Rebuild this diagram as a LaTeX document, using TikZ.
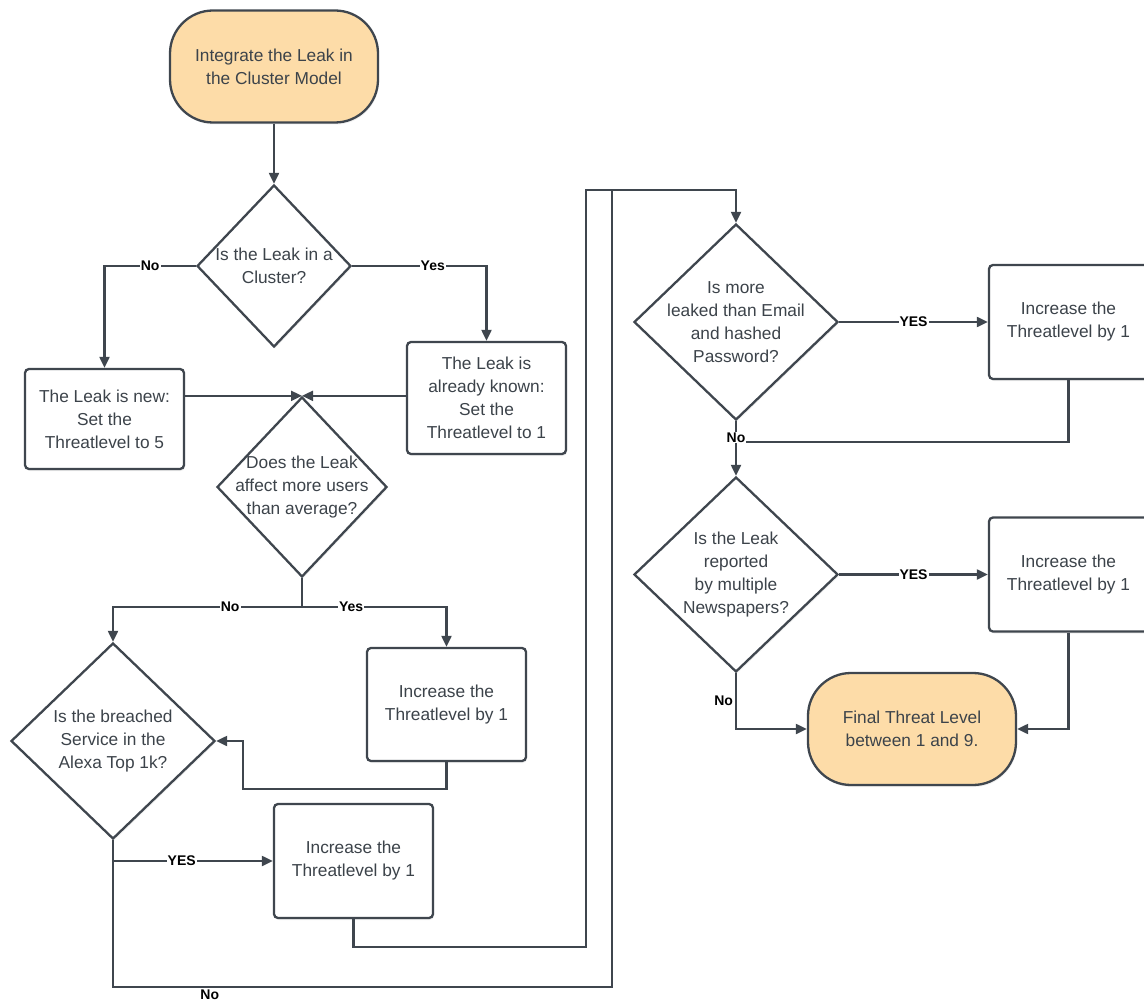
\documentclass[tikz,border=0pt]{standalone}
\usepackage{fontspec}
\setmainfont{Liberation Sans}
\usetikzlibrary{shapes.geometric,arrows.meta,shadows}

\definecolor{linegray}{HTML}{3F464E}
\definecolor{textgray}{HTML}{3C434A}
\definecolor{termfill}{HTML}{FDDCA8}

\begin{document}
\begin{tikzpicture}[x=1pt, y=-1pt,
    every node/.style={font=\fontsize{17.3}{23}\selectfont, text=textgray},
    softshadow/.style={drop shadow={opacity=0.12, shadow xshift=1pt, shadow yshift=-2pt}},
    box/.style={draw=linegray, line width=2.3pt, rounded corners=4pt, fill=white,
        minimum width=159pt, minimum height=114pt, align=center, softshadow},
    terminal/.style={draw=linegray, line width=2.3pt, rounded corners=43pt, fill=termfill,
        minimum width=208pt, minimum height=112pt, align=center, softshadow},
    decision/.style={diamond, draw=linegray, line width=2.3pt, fill=white, inner sep=0pt,
        softshadow},
    qtext/.style={align=center, anchor=center, inner sep=0pt},
    line/.style={draw=linegray, line width=2.1pt},
    arr/.style={line, -{Triangle[length=11pt, width=10pt]}},
    lbl/.style={font=\fontsize{14}{15}\selectfont\bfseries, text=black, fill=white, inner sep=1pt},
    lblb/.style={font=\fontsize{14}{15}\selectfont\bfseries, text=black, inner sep=2pt}
]
    \useasboundingbox (0,0) rectangle (1144,1003);

    % Left column
    \node[terminal] (start) at (274,66.5) {Integrate the Leak in\\the Cluster Model};
    \node[decision, minimum width=154pt, minimum height=162pt,
        label={[qtext]center:Is the Leak in a\\Cluster?}] (q1) at (274,266) {};
    \node[box, minimum height=100pt] (new) at (104.5,419) {The Leak is new:\\Set the\\Threatlevel to 5};
    \node[box, minimum height=112pt] (known) at (486.5,398) {The Leak is\\already known:\\Set the\\Threatlevel to 1};
    \node[decision, minimum width=170pt, minimum height=180pt,
        label={[qtext]center:Does the Leak\\affect more users\\than average?}] (q2) at (302,487) {};
    \node[box, minimum height=113pt] (incA) at (446.5,704.5) {Increase the\\Threatlevel by 1};
    \node[decision, minimum width=204pt, minimum height=196pt,
        label={[qtext]center:Is the breached\\Service in the\\Alexa Top 1k?}] (q3) at (113,741) {};
    \node[box] (incB) at (353.5,861) {Increase the\\Threatlevel by 1};

    % Right column
    \coordinate (join) at (612,190);
    \coordinate (join2) at (736,442);
    \node[decision, minimum width=204pt, minimum height=196pt,
        label={[qtext]center:Is more\\leaked than Email\\and hashed\\Password?}] (q4) at (736,322) {};
    \node[box] (incC) at (1068.5,322) {Increase the\\Threatlevel by 1};
    \node[decision, minimum width=204pt, minimum height=195pt,
        label={[qtext]center:Is the Leak\\reported\\by multiple\\Newspapers?}] (q5) at (736,574.5) {};
    \node[box] (incD) at (1068.5,574.5) {Increase the\\Threatlevel by 1};
    \node[terminal] (final) at (912,729) {Final Threat Level\\between 1 and 9.};

    % Arrows
    \draw[arr] (start) -- (q1);
    \draw[arr] (q1.west) -| node[lbl, pos=0.25] {No} (new.north);
    \draw[arr] (q1.east) -| node[lbl, pos=0.3] {Yes} (known.north);
    \draw[arr] (q2.north -| new.east) -- (q2.north);
    \draw[arr] (q2.north -| known.west) -- (q2.north);
    \coordinate (split) at (302,607);
    \draw[line] (q2.south) -- (split);
    \draw[arr] (split) -| node[lbl, pos=0.19] {No} (q3.north);
    \draw[arr] (split) -| node[lbl, pos=0.17] {Yes} (incA.north);
    \draw[arr] (incA.south) -- ++(0,27) -| ([xshift=27pt]q3.east) -- (q3.east);
    \draw[arr] (q3.south) |- node[lbl, pos=0.715] {YES} (incB.west);
    \draw[line] (incB.south) -- ++(0,28) -| ([xshift=-26pt]join) -- (join);
    \draw[arr] (q3.south) -- ++(0,147) -| node[lblb, below, pos=0.097] {No} (join) -| (q4.north);
    \draw[arr] (q4.east) -- node[lbl] {YES} (incC.west);
    \draw[line] (incC.south) |- (join2);
    \draw[arr] (q4.south) -- node[lbl, pos=0.3] {No} (q5.north);
    \draw[arr] (q5.east) -- node[lbl] {YES} (incD.west);
    \draw[arr] (incD.south) |- (final.east);
    \draw[arr] (q5.south) |- node[lblb, left, pos=0.245] {No} (final.west);
\end{tikzpicture}
\end{document}
